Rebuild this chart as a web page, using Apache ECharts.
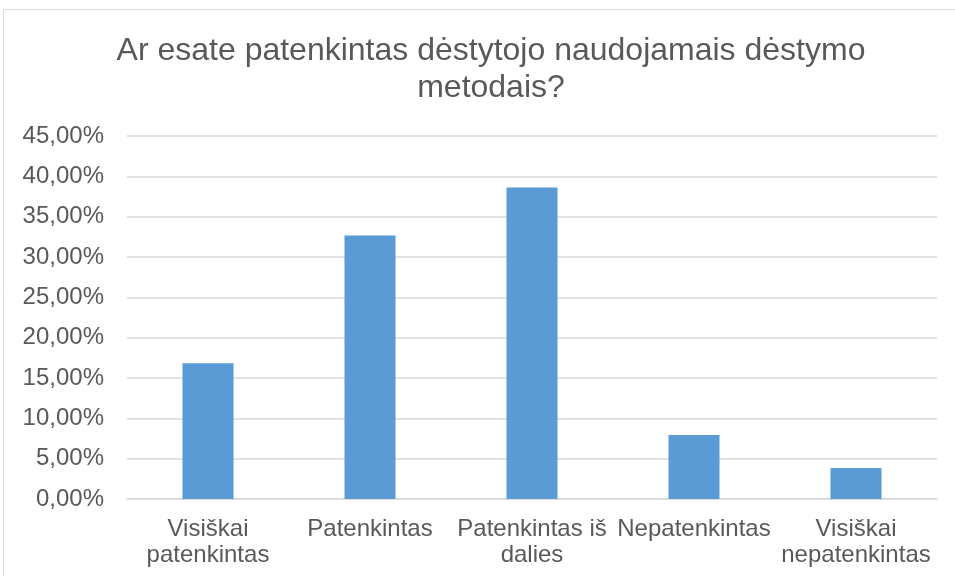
<!DOCTYPE html>
<html>
<head>
<meta charset="utf-8">
<script src="https://cdn.jsdelivr.net/npm/echarts@6/dist/echarts.min.js"></script>
<style>html,body{margin:0;padding:0;background:#fff}#c{width:955px;height:576px}</style>
</head>
<body>
<div id="c"></div>
<script>
const titleText = "Ar esate patenkintas dėstytojo naudojamais dėstymo\nmetodais?";
const categories = ["Visiškai patenkintas", "Patenkintas", "Patenkintas iš dalies", "Nepatenkintas", "Visiškai nepatenkintas"];
const categoryLabels = ["Visiškai\npatenkintas", "Patenkintas", "Patenkintas iš\ndalies", "Nepatenkintas", "Visiškai\nnepatenkintas"];
const values = [16.83, 32.67, 38.61, 7.92, 3.85];
const yMin = 0, yMax = 45, yStep = 5;

const chart = echarts.init(document.getElementById('c'), null, {renderer: 'canvas'});
chart.setOption({
  animation: false,
  backgroundColor: '#ffffff',
  graphic: [{
    type: 'rect', shape: {x: 3.5, y: 9.5, width: 970, height: 620},
    style: {fill: 'none', stroke: '#d9d9d9', lineWidth: 1}, silent: true, z: -1
  }],
  title: {
    text: titleText,
    left: 486, top: 28, textAlign: 'center',
    textStyle: {fontFamily: 'Liberation Sans', fontSize: 32, fontWeight: 'normal', color: '#595959', lineHeight: 37}
  },
  grid: {left: 127, right: 18, top: 136, bottom: 77},
  xAxis: {
    type: 'category', data: categories,
    axisTick: {show: false},
    axisLine: {lineStyle: {color: '#d9d9d9', width: 1.5}},
    axisLabel: {
      interval: 0, margin: 17, color: '#595959', fontFamily: 'Liberation Sans', fontSize: 24,
      lineHeight: 26, align: 'center',
      formatter: (v, i) => categoryLabels[categories.indexOf(v)]
    }
  },
  yAxis: {
    type: 'value', min: yMin, max: yMax, interval: yStep,
    axisLine: {show: false}, axisTick: {show: false},
    splitLine: {lineStyle: {color: '#d9d9d9', width: 1.5}},
    axisLabel: {
      margin: 23, color: '#595959', fontFamily: 'Liberation Sans', fontSize: 24,
      formatter: v => v.toFixed(2).replace('.', ',') + '%'
    }
  },
  series: [{
    type: 'bar', data: values, barWidth: '31.5%',
    itemStyle: {color: '#5b9bd5'}
  }]
});
</script>
</body>
</html>
